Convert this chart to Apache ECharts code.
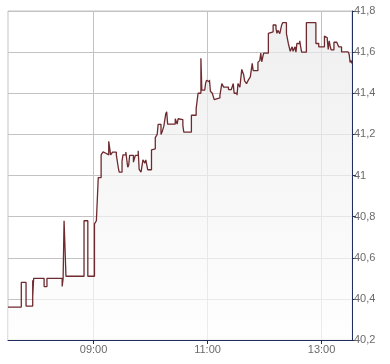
<!DOCTYPE html>
<html><head><meta charset="utf-8">
<script src="https://cdn.jsdelivr.net/npm/echarts@6/dist/echarts.min.js"></script>
<style>html,body{margin:0;padding:0;background:#fff}#c{width:390px;height:364px}</style>
</head><body><div id="c"></div>
<script>
const times = [
'07:30','07:44','07:49','07:56','07:56','07:57','08:08','08:11','08:27','08:28','08:29','08:31','08:50','08:54',
'09:01','09:03','09:05','09:08','09:10','09:12','09:13','09:16','09:18','09:20','09:24','09:26','09:27','09:30',
'09:31','09:34','09:36','09:37','09:38','09:42','09:44','09:47','09:48','09:50','09:52','09:54','09:55','09:57',
'10:01','10:02','10:05','10:07','10:08','10:11','10:12','10:14','10:16','10:17','10:18','10:26','10:28','10:29',
'10:31','10:34','10:35','10:43','10:48','10:50','10:53','10:54','10:57','10:58','10:59','11:00','11:02','11:03',
'11:05','11:07','11:08','11:13','11:15','11:17','11:22','11:25','11:27','11:28','11:31','11:32','11:34','11:36',
'11:38','11:39','11:41','11:43','11:45','11:47','11:48','11:53','11:55','11:56','11:57','11:59',
'12:04','12:06','12:09','12:12','12:13','12:14','12:16','12:18','12:19','12:23','12:25','12:27','12:29','12:30',
'12:32','12:33','12:34','12:37','12:38','12:39','12:44','12:54','12:57','13:03','13:04','13:06','13:07','13:08',
'13:09','13:10','13:13','13:16','13:18','13:21','13:28','13:29','13:30','13:31','13:32'
];
const prices = [
40.36,40.48,40.365,40.49,40.41,40.50,40.46,40.50,40.46,40.50,40.78,40.51,40.78,40.51,
40.765,40.78,40.99,41.10,41.115,41.108,41.10,41.166,41.10,41.114,41.10,41.04,41.016,41.07,
41.10,41.114,41.04,41.05,41.098,41.065,41.098,41.12,41.03,41.016,41.076,41.06,41.076,41.028,
41.125,41.13,41.184,41.20,41.249,41.20,41.21,41.24,41.30,41.31,41.25,41.276,41.25,41.276,
41.272,41.244,41.211,41.293,41.325,41.40,41.57,41.415,41.41,41.45,41.463,41.455,41.465,41.41,
41.40,41.369,41.377,41.39,41.447,41.43,41.418,41.426,41.447,41.40,41.39,41.447,41.43,41.516,
41.49,41.46,41.447,41.465,41.48,41.545,41.51,41.55,41.56,41.595,41.553,41.595,
41.691,41.699,41.732,41.715,41.691,41.706,41.69,41.732,41.743,41.69,41.642,41.604,41.626,41.604,
41.626,41.60,41.642,41.655,41.626,41.60,41.743,41.642,41.626,41.678,41.67,41.66,41.613,41.655,
41.63,41.611,41.648,41.642,41.626,41.601,41.608,41.59,41.55,41.56,41.545
];
const xTickLabels = ['09:00','11:00','13:00'];
const xStart = '07:30', xEnd = '13:32';
const yMin = 40.2, yMax = 41.8, yStep = 0.2;

function toMin(s){const p=s.split(':');return (+p[0])*60+(+p[1]);}
function fmtMin(m){const h=Math.floor(m/60),mm=Math.round(m%60);return String(h).padStart(2,'0')+':'+String(mm).padStart(2,'0');}
const data = times.map((t,i)=>[toMin(t),prices[i]]);
const xTicks = xTickLabels.map(toMin);

const navy='#1f2d5e', gridC='#c3c3c3', labC='#6a6a6a';
const chart = echarts.init(document.getElementById('c'),null,{renderer:'canvas'});
chart.setOption({
  animation:false,
  grid:{left:8,right:38,top:11,bottom:24,show:true,borderColor:gridC,borderWidth:1,backgroundColor:'transparent'},
  xAxis:{
    type:'value',min:toMin(xStart),max:toMin(xEnd),
    axisLine:{show:true,lineStyle:{color:navy,width:1}},
    axisTick:{show:true,customValues:xTicks,length:4,inside:false,lineStyle:{color:navy}},
    axisLabel:{customValues:xTicks,formatter:v=>fmtMin(v),color:labC,fontFamily:'Liberation Sans, Arial, sans-serif',fontSize:11,margin:4},
    splitLine:{show:true,lineStyle:{color:gridC,width:1}}
  },
  yAxis:{
    type:'value',position:'right',min:yMin,max:yMax,interval:yStep,
    axisLine:{show:true,lineStyle:{color:navy,width:1}},
    axisTick:{show:true,length:4,inside:false,lineStyle:{color:navy}},
    axisLabel:{formatter:v=>String(+v.toFixed(1)).replace('.',','),color:labC,fontFamily:'Liberation Sans, Arial, sans-serif',fontSize:11,margin:2},
    splitLine:{show:true,lineStyle:{color:gridC,width:1}}
  },
  series:[{
    type:'line',step:'end',data:data,showSymbol:false,symbol:'none',
    lineStyle:{color:'#6e2a2f',width:1.3},
    areaStyle:{color:new echarts.graphic.LinearGradient(0,0,0,1,[{offset:0,color:'#e8e8e8'},{offset:1,color:'#fdfdfd'}])}
  }]
});
</script></body></html>
